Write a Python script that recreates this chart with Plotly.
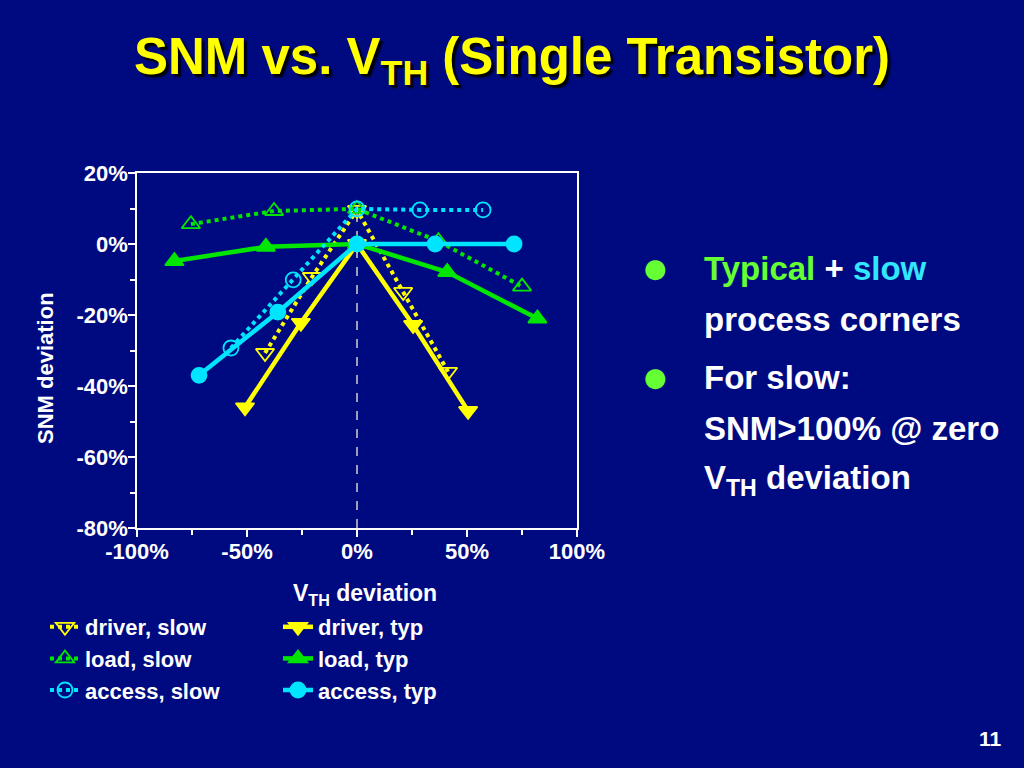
import plotly.graph_objects as go

# ---- data (percent) ----
driver_slow_x = [-41.8, -20.5, 0, 21, 41.4]
driver_slow_y = [-30.7, -9.3, 9.6, -13.5, -36]
driver_typ_x = [-50.9, -25.5, 0, 25.5, 50.5]
driver_typ_y = [-46, -22.2, 0, -22.8, -47]
load_slow_x = [-75.5, -37.7, 0, 37, 75]
load_slow_y = [5.6, 9.3, 9.9, 0.8, -12]
load_typ_x = [-83, -41.4, 0, 41, 82]
load_typ_y = [-4.8, -0.8, 0, -7.9, -21]
access_slow_x = [-57.3, -29, 0, 28.6, 57.3]
access_slow_y = [-29.3, -10.1, 9.9, 9.6, 9.6]
access_typ_x = [-71.8, -36, 0, 35.5, 71.4]
access_typ_y = [-37, -19.2, 0, 0, 0]

x_ticks = [-100, -50, 0, 50, 100]
y_ticks = [20, 0, -20, -40, -60, -80]

BG = "#000a80"
YEL = "#ffff00"
GRN = "#00e600"
CYN = "#00e5ff"
FONT = "Liberation Sans, Arial, sans-serif"

# plot area in pixels
L, R, T, B = 137, 577, 173, 528
W, H = 1024, 768


def px(xp, yp):
    return (xp - L) / (R - L), (B - yp) / (B - T)


fig = go.Figure()

series = [
    ("driver, slow", driver_slow_x, driver_slow_y, YEL, "dot", "triangle-down-open", "legend"),
    ("driver, typ", driver_typ_x, driver_typ_y, YEL, "solid", "triangle-down", "legend2"),
    ("load, slow", load_slow_x, load_slow_y, GRN, "dot", "triangle-up-open", "legend"),
    ("load, typ", load_typ_x, load_typ_y, GRN, "solid", "triangle-up", "legend2"),
    ("access, slow", access_slow_x, access_slow_y, CYN, "dot", "circle-open", "legend"),
    ("access, typ", access_typ_x, access_typ_y, CYN, "solid", "circle", "legend2"),
]

for name, xs, ys, col, dash, sym, leg in series:
    fig.add_trace(go.Scatter(
        x=xs, y=ys, name=name, mode="lines+markers",
        line=dict(color=col, width=4.5 if dash == "solid" else 4, dash=dash),
        marker=dict(symbol=sym, size=16 if "triangle" in sym else 15, color=col,
                    line=dict(color=col, width=1.8)),
        legend=leg,
    ))

# zero reference line
fig.add_shape(type="line", x0=0, x1=0, y0=-80, y1=10, xref="x", yref="y",
              line=dict(color="#d0d0d0", width=1.5, dash="dash"), layer="below")

ann = []
# title
tx, ty = px(512, 60)
ann.append(dict(x=tx, y=ty, xref="paper", yref="paper", showarrow=False,
                xanchor="center", yanchor="middle",
                text="SNM vs. V<sub>TH</sub> (Single Transistor)",
                font=dict(family="Liberation Sans Narrow, Arial Narrow, Liberation Sans, Arial",
                          size=51, color=YEL, weight="bold", shadow="3px 3px 2px #000000")))
# axis titles
ax_, ay_ = px(365, 594)
ann.append(dict(x=ax_, y=ay_, xref="paper", yref="paper", showarrow=False,
                xanchor="center", yanchor="middle",
                text="<b>V<sub>TH</sub> deviation</b>",
                font=dict(family=FONT, size=23, color="white")))
yx, yy = px(45, 368)
ann.append(dict(x=yx, y=yy, xref="paper", yref="paper", showarrow=False,
                xanchor="center", yanchor="middle", textangle=-90,
                text="<b>SNM deviation</b>",
                font=dict(family=FONT, size=22, color="white")))

# bullets
for by in (268, 377):
    bx, byy = px(655, by)
    ann.append(dict(x=bx, y=byy, xref="paper", yref="paper", showarrow=False,
                    xanchor="center", yanchor="middle", text="●",
                    font=dict(family="DejaVu Sans", size=26, color="#66ff33")))

lines = [
    (268, "<span style='color:#66ff33'>Typical</span> + <span style='color:#33e6ff'>slow</span>"),
    (319, "process corners"),
    (377, "For slow:"),
    (428, "SNM&gt;100% @ zero"),
    (480, "V<sub>TH</sub> deviation"),
]
for ly, txt in lines:
    lx, lyy = px(702, ly)
    ann.append(dict(x=lx, y=lyy, xref="paper", yref="paper", showarrow=False,
                    xanchor="left", yanchor="middle", text="<b>" + txt + "</b>",
                    font=dict(family=FONT, size=33, color="white")))

# page number
nx, ny = px(990, 738)
ann.append(dict(x=nx, y=ny, xref="paper", yref="paper", showarrow=False,
                xanchor="center", yanchor="middle", text="<b>11</b>",
                font=dict(family=FONT, size=21, color="white")))

lg1x, lg1y = px(45, 606)
lg2x, lg2y = px(278, 606)
legfont = dict(family=FONT, size=22, color="white", weight="bold")

fig.update_layout(
    width=W, height=H,
    paper_bgcolor=BG, plot_bgcolor=BG,
    margin=dict(l=L, r=W - R, t=T, b=H - B, autoexpand=False),
    showlegend=True,
    legend=dict(x=lg1x, y=lg1y, xanchor="left", yanchor="top", bgcolor="rgba(0,0,0,0)",
                font=legfont, tracegroupgap=0, itemwidth=30),
    legend2=dict(x=lg2x, y=lg2y, xanchor="left", yanchor="top", bgcolor="rgba(0,0,0,0)",
                 font=legfont, tracegroupgap=0, itemwidth=30),
    annotations=ann,
    xaxis=dict(range=[-100, 100], tickvals=x_ticks,
               ticktext=[f"{v}%" for v in x_ticks],
               showgrid=False, zeroline=False, showline=True, linecolor="white", linewidth=1.5,
               mirror=True, ticks="outside", tickcolor="white", ticklen=7, tickwidth=1.5,
               ticklabelstandoff=-4,
               minor=dict(tickvals=[-75, -25, 25, 75], ticks="outside", ticklen=5,
                          tickcolor="white", tickwidth=1.5),
               tickfont=dict(family=FONT, size=22, color="white", weight="bold")),
    yaxis=dict(range=[-80, 20], tickvals=y_ticks,
               ticktext=[f"{v}%" for v in y_ticks],
               showgrid=False, zeroline=False, showline=True, linecolor="white", linewidth=1.5,
               mirror=True, ticks="outside", tickcolor="white", ticklen=7, tickwidth=1.5,
               ticklabelstandoff=-4,
               minor=dict(tickvals=[10, -10, -30, -50, -70], ticks="outside", ticklen=5,
                          tickcolor="white", tickwidth=1.5),
               tickfont=dict(family=FONT, size=22, color="white", weight="bold")),
)

fig.write_html("out.html", config={"displayModeBar": False},
               post_script="document.body.style.margin='0';document.body.style.overflow='hidden';")
